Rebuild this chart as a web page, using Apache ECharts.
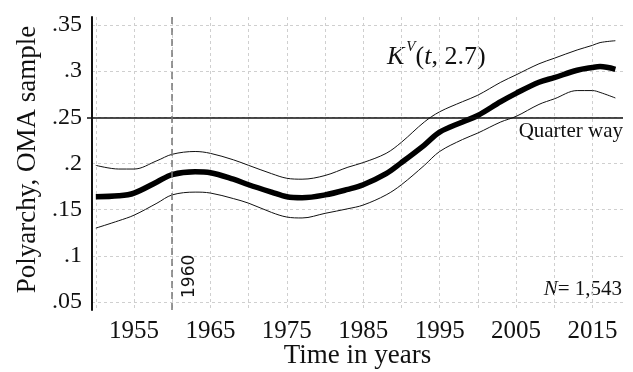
<!DOCTYPE html>
<html>
<head>
<meta charset="utf-8">
<script src="https://cdn.jsdelivr.net/npm/echarts@6/dist/echarts.min.js"></script>
<style>
  html, body { margin: 0; padding: 0; background: #fff; }
  #chart { width: 633px; height: 372px; }
</style>
</head>
<body>
<div id="chart"></div>
<script>
// Estimated polyarchy level over time with upper and lower bounds
const years = [1950, 1953, 1955, 1958, 1960, 1963, 1965, 1968, 1970, 1973, 1975, 1977, 1980, 1983,
               1985, 1988, 1990, 1993, 1995, 1998, 2000, 2003, 2005, 2008, 2010, 2013, 2015, 2016, 2018];
const estimate = [0.164, 0.165, 0.168, 0.180, 0.188, 0.191, 0.190, 0.183, 0.177, 0.169, 0.164, 0.163, 0.166, 0.172,
                  0.177, 0.189, 0.201, 0.220, 0.234, 0.245, 0.252, 0.267, 0.276, 0.288, 0.293, 0.301, 0.304, 0.305, 0.302];
const upperBound = [0.198, 0.194, 0.194, 0.203, 0.210, 0.213, 0.211, 0.204, 0.198, 0.189, 0.184, 0.183, 0.187, 0.196,
                    0.201, 0.211, 0.223, 0.245, 0.256, 0.267, 0.274, 0.288, 0.296, 0.308, 0.314, 0.323, 0.328, 0.331, 0.333];
const lowerBound = [0.130, 0.138, 0.144, 0.157, 0.166, 0.169, 0.168, 0.162, 0.157, 0.147, 0.142, 0.141, 0.146, 0.151,
                    0.155, 0.166, 0.177, 0.198, 0.213, 0.226, 0.233, 0.245, 0.251, 0.264, 0.270, 0.279, 0.279, 0.277, 0.271];

const xGridYears = [1950, 1955, 1960, 1965, 1970, 1975, 1980, 1985, 1990, 1995, 2000, 2005, 2010, 2015];
const xLabelYears = [1955, 1965, 1975, 1985, 1995, 2005, 2015];
const yTicks = [0.05, 0.1, 0.15, 0.2, 0.25, 0.3, 0.35];
const quarterWay = 0.25;
const markerYear = 1960;
const sampleSize = '1,543';

const serif = 'Liberation Serif';
const zip = vals => years.map((y, i) => [y, vals[i]]);

const chart = echarts.init(document.getElementById('chart'), null, { renderer: 'canvas' });

const thin = (name, vals) => ({
  name, type: 'line', data: zip(vals), smooth: 0.35, showSymbol: false, silent: true,
  lineStyle: { color: '#111', width: 1 }, z: 3
});

chart.setOption({
  animation: false,
  backgroundColor: '#fff',
  grid: { left: 92, right: 10, top: 17, bottom: 62, outerBoundsMode: 'none', containLabel: false },
  xAxis: {
    type: 'value', min: 1949.5, max: 2019,
    name: 'Time in years', nameLocation: 'middle', nameGap: 32, nameMoveOverlap: false,
    nameTextStyle: { fontFamily: serif, fontSize: 27, color: '#111', verticalAlign: 'top' },
    axisLine: { show: false },
    axisTick: { show: false, customValues: xGridYears },
    axisLabel: {
      customValues: xLabelYears, fontFamily: serif, fontSize: 25, color: '#111', margin: 9,
      formatter: v => String(v)
    },
    splitLine: { show: true, lineStyle: { color: '#cfcfcf', type: [3, 3], width: 1 } }
  },
  yAxis: [{
    type: 'value', min: 0.0413, max: 0.3587,
    name: 'Polyarchy, OMA sample', nameLocation: 'middle', nameGap: 48, nameRotate: 90,
    nameTextStyle: { fontFamily: serif, fontSize: 27, color: '#111', padding: [0, 0, 0, 8] },
    axisLine: { show: true, lineStyle: { color: '#111', width: 2 } },
    axisTick: { show: false, customValues: yTicks },
    axisLabel: {
      customValues: yTicks, fontFamily: serif, fontSize: 24, color: '#111', margin: 10,
      formatter: v => String(+v.toFixed(2)).replace(/^0/, '')
    },
    splitLine: { show: true, lineStyle: { color: '#cfcfcf', type: [3, 3], width: 1 } }
  }, {
    // short tick marking the quarter-way level on the vertical axis
    type: 'value', min: 0.0413, max: 0.3587, position: 'left',
    axisLine: { show: false },
    axisTick: { show: true, customValues: [quarterWay], length: 5, lineStyle: { color: '#111', width: 1.5 } },
    axisLabel: { show: false },
    splitLine: { show: false }
  }],
  series: [
    thin('upper', upperBound),
    thin('lower', lowerBound),
    {
      name: 'estimate', type: 'line', data: zip(estimate), smooth: 0.35, showSymbol: false, silent: true,
      lineStyle: { color: '#000', width: 5.5 }, z: 4,
      markLine: {
        silent: true, symbol: 'none', animation: false,
        data: [
          {
            yAxis: quarterWay,
            lineStyle: { color: '#111', width: 1.5, type: 'solid' },
            label: {
              show: true, position: 'insideEndBottom', formatter: 'Quarter way',
              fontFamily: serif, fontSize: 21, color: '#111', distance: [0, 4]
            }
          },
          {
            xAxis: markerYear,
            lineStyle: { color: '#777', width: 1.5, type: [7, 4] },
            label: {
              show: true, position: 'insideStartBottom', formatter: String(markerYear),
              fontFamily: 'DejaVu Sans', fontSize: 17, color: '#111', distance: [12, 9]
            }
          }
        ]
      }
    }
  ],
  graphic: [
    {
      type: 'text', left: 387, top: 40, silent: true,
      style: {
        text: '{k|K}{v|V}{n|(}{k|t}{n|, 2.7)}',
        rich: {
          k: { fontFamily: serif, fontStyle: 'italic', fontSize: 26, fill: '#111', lineHeight: 30, verticalAlign: 'bottom' },
          v: { fontFamily: serif, fontStyle: 'italic', fontSize: 15, fill: '#111', lineHeight: 30, verticalAlign: 'top', padding: [0, 0, 0, 2] },
          n: { fontFamily: serif, fontSize: 26, fill: '#111', lineHeight: 30, verticalAlign: 'bottom' }
        }
      }
    },
    {
      type: 'text', right: 11, top: 279, silent: true,
      style: {
        text: '{i|N}{n|= ' + sampleSize + '}',
        rich: {
          i: { fontFamily: serif, fontStyle: 'italic', fontSize: 21, fill: '#111' },
          n: { fontFamily: serif, fontSize: 21, fill: '#111' }
        }
      }
    }
  ]
});
</script>
</body>
</html>
